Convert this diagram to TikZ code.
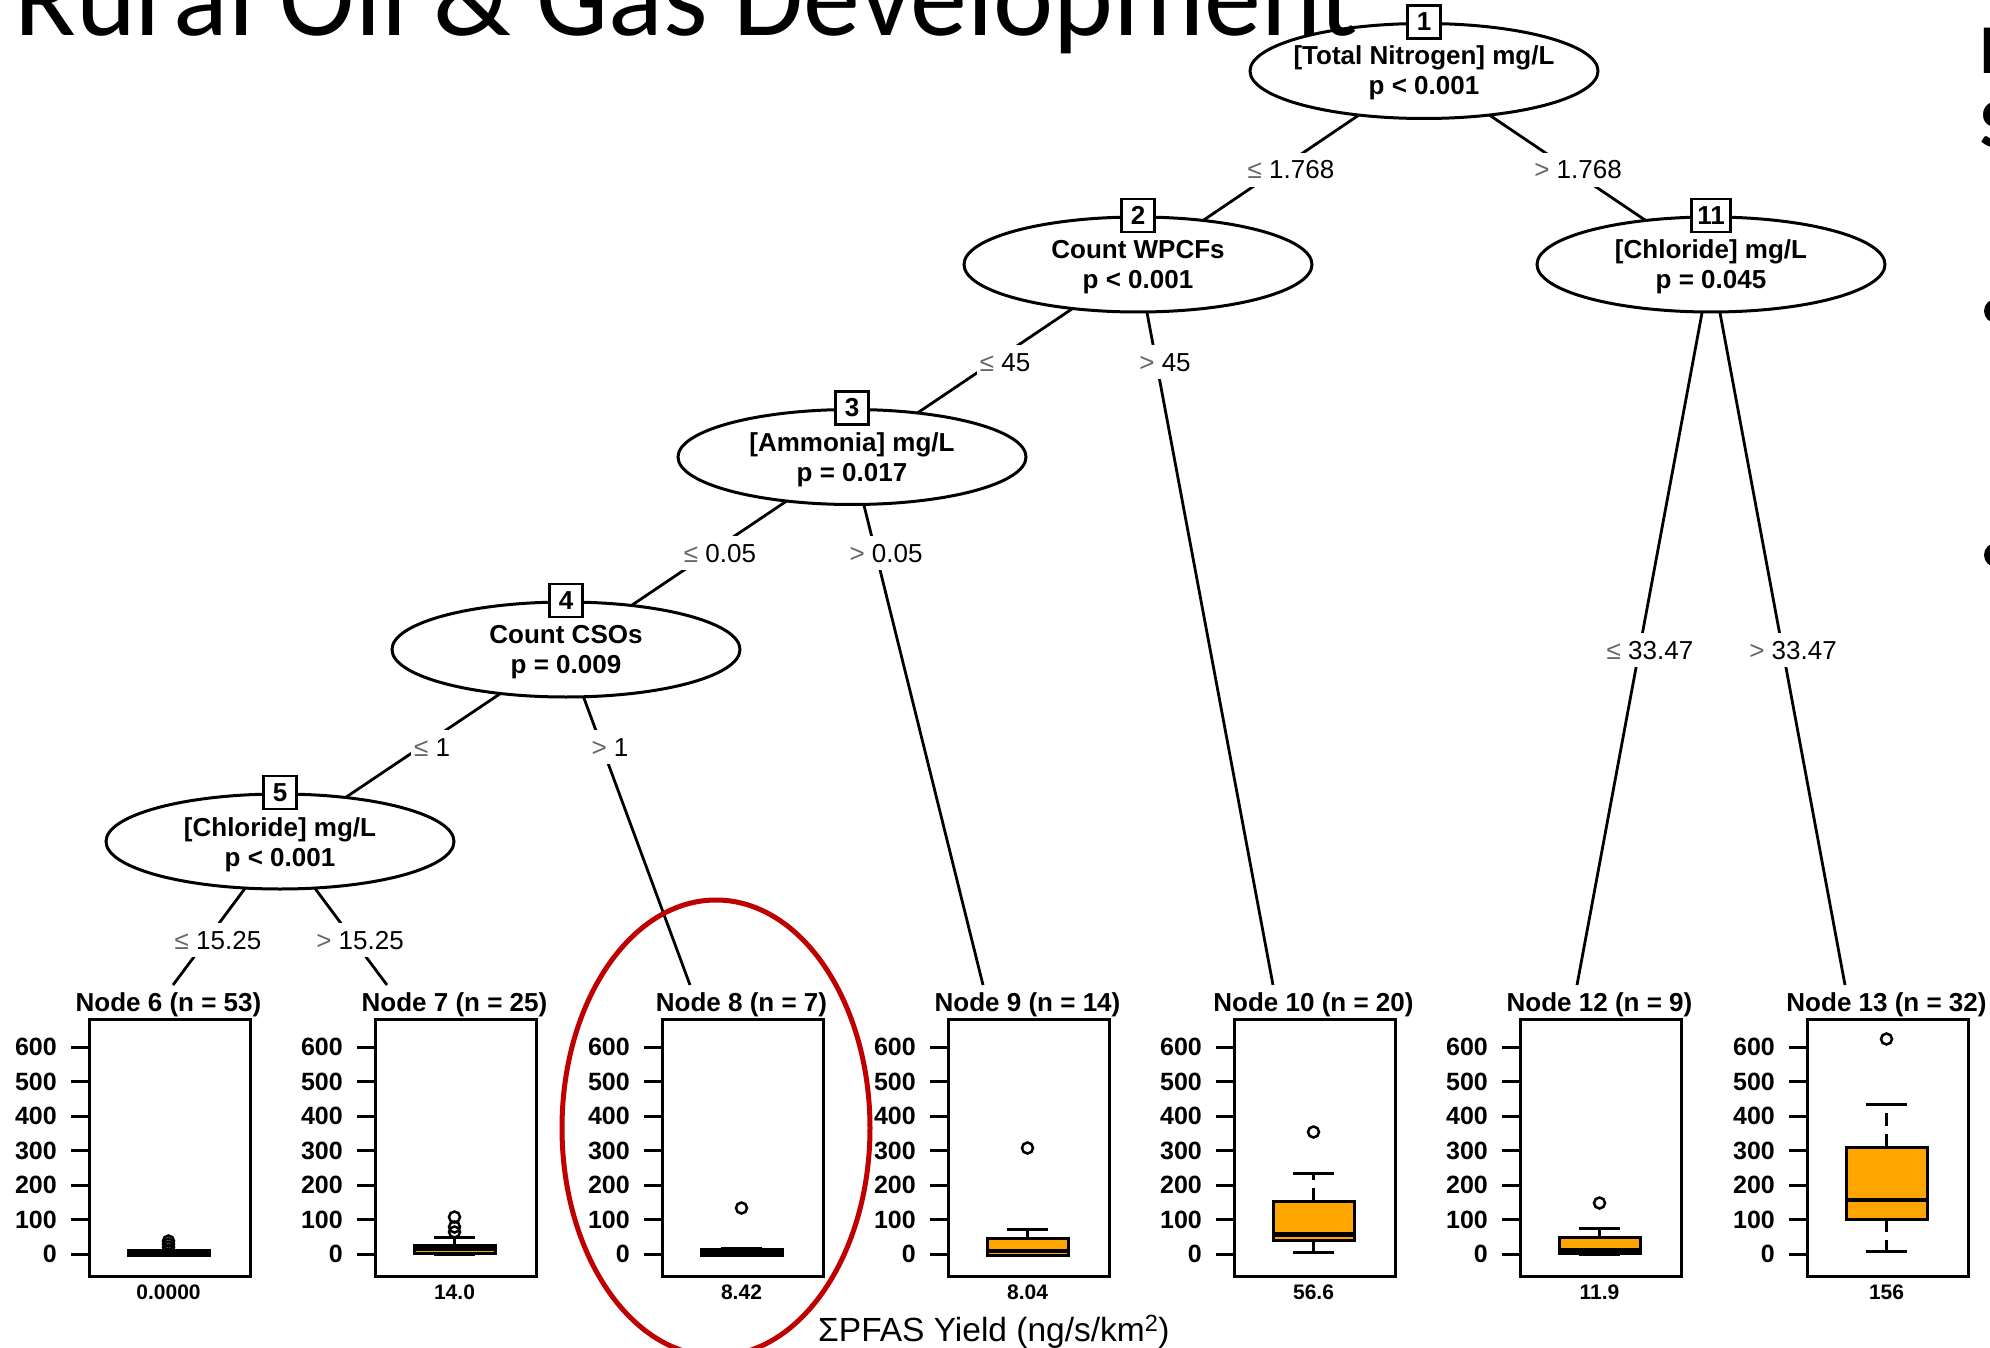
\documentclass[tikz,border=0pt]{standalone}
\usepackage{fontspec}
\setmainfont{Liberation Sans}
\newfontfamily\titlefont{Carlito}
\usetikzlibrary{shapes.geometric}
\definecolor{boxorange}{HTML}{FFA500}
\definecolor{circred}{HTML}{C00000}
\pgfdeclarelayer{bg}
\pgfdeclarelayer{edges}
\pgfsetlayers{bg,edges,main}
\newcommand\lesym{\textcolor{black!60}{≤}}
\newcommand\gtsym{\textcolor{black!60}{>}}
\tikzset{
  lw/.style={line width=3pt},
  conn/.style={line width=2.8pt},
  split/.style={ellipse, draw, line width=3pt, fill=white, minimum width=348pt, minimum height=95pt, inner sep=0pt},
  idbox/.style={draw, line width=2.5pt, fill=white, minimum height=33pt, minimum width=33pt, inner sep=0pt, font=\fontsize{26}{26}\selectfont\bfseries},
  splittxt/.style={anchor=base, inner sep=0pt, font=\fontsize{26}{30}\selectfont\bfseries},
  edgelbl/.style={fill=white, inner xsep=3pt, inner ysep=7pt, text height=19pt, text depth=1pt, font=\fontsize{26}{30}\selectfont},
  paneltitle/.style={anchor=base, inner sep=0pt, font=\fontsize{26}{26}\selectfont\bfseries},
  ticklbl/.style={anchor=east, inner sep=0pt, font=\fontsize{25}{25}\selectfont\bfseries},
  medlbl/.style={inner sep=0pt, font=\fontsize{21}{21}\selectfont\bfseries},
  panelframe/.style={draw, line width=3pt, minimum width=161pt, minimum height=257pt, anchor=north west, inner sep=0pt},
  whisk/.style={line width=3pt, dash pattern=on 13pt off 8pt},
  medline/.style={line width=4.5pt},
  outl/.style={line width=2.5pt},
  rightfrag/.style={anchor=base west, inner sep=0pt, font=\titlefont\bfseries\fontsize{70}{70}\selectfont},
}
\newcommand\bxplot[6]{%
  \draw[whisk] (#1+80.5,#2) -- (#1+80.5,#5);
  \draw[whisk] (#1+80.5,#3) -- (#1+80.5,#6);
  \draw[lw] (#1+60,#5) -- (#1+101,#5);
  \draw[lw] (#1+60,#6) -- (#1+101,#6);
  \draw[lw, fill=boxorange] (#1+40,#2) rectangle (#1+121,#3);
  \draw[medline] (#1+40,#4) -- (#1+121,#4);
}
\begin{document}
\begin{tikzpicture}[x=1pt,y=-1pt]
\useasboundingbox (0,0) rectangle (1990,1348);
\begin{pgfonlayer}{bg}
\fill[white] (0,0) rectangle (1990,1348);
\end{pgfonlayer}
\clip (0,0) rectangle (1990,1348);

% split nodes
\node[split] (n1) at (1424,71) {};
\node[split] (n2) at (1138,264.5) {};
\node[split] (n11) at (1711,264.5) {};
\node[split] (n3) at (852,457) {};
\node[split] (n4) at (566,649.5) {};
\node[split] (n5) at (280,841.5) {};

% terminal ends
\coordinate (t6) at (173,985);
\coordinate (t7) at (387,985);
\coordinate (t8) at (690,985);
\coordinate (t9) at (983,985);
\coordinate (t10) at (1273,985);
\coordinate (t12) at (1577,985);
\coordinate (t13) at (1845,985);

\begin{pgfonlayer}{edges}
\draw[conn] (n1.center) -- (n2.center);
\draw[conn] (n1.center) -- (n11.center);
\draw[conn] (n2.center) -- (n3.center);
\draw[conn] (n2.center) -- (t10);
\draw[conn] (n3.center) -- (n4.center);
\draw[conn] (n3.center) -- (t9);
\draw[conn] (n4.center) -- (n5.center);
\draw[conn] (n4.center) -- (t8);
\draw[conn] (n5.center) -- (t6);
\draw[conn] (n5.center) -- (t7);
\draw[conn] (n11.center) -- (t12);
\draw[conn] (n11.center) -- (t13);
\end{pgfonlayer}

% texts in split nodes
\node[splittxt] (n1a) at (1424,65) {[Total Nitrogen] mg/L};
\node[splittxt] (n1b) at (1424,95) {p < 0.001};
\node[splittxt] (n2a) at (1138,258.5) {Count WPCFs};
\node[splittxt] (n2b) at (1138,288.5) {p < 0.001};
\node[splittxt] (n11a) at (1711,258.5) {[Chloride] mg/L};
\node[splittxt] (n11b) at (1711,288.5) {p = 0.045};
\node[splittxt] (n3a) at (852,451) {[Ammonia] mg/L};
\node[splittxt] (n3b) at (852,481) {p = 0.017};
\node[splittxt] (n4a) at (566,643.5) {Count CSOs};
\node[splittxt] (n4b) at (566,673.5) {p = 0.009};
\node[splittxt] (n5a) at (280,836.5) {[Chloride] mg/L};
\node[splittxt] (n5b) at (280,866.5) {p < 0.001};

% id boxes
\node[idbox] (id1) at (n1.north) {1};
\node[idbox] (id2) at (n2.north) {2};
\node[idbox, minimum width=39pt] (id11) at (n11.north) {11};
\node[idbox] (id3) at (n3.north) {3};
\node[idbox] (id4) at (n4.north) {4};
\node[idbox] (id5) at (n5.north) {5};

% edge labels
\node[edgelbl] (e12) at (1291,170) {\lesym{} 1.768};
\node[edgelbl] (e111) at (1578,170) {\gtsym{} 1.768};
\node[edgelbl] (e23) at (1005,362) {\lesym{} 45};
\node[edgelbl] (e210) at (1165,362) {\gtsym{} 45};
\node[edgelbl] (e34) at (720,553) {\lesym{} 0.05};
\node[edgelbl] (e39) at (886,553) {\gtsym{} 0.05};
\node[edgelbl] (e45) at (432,747) {\lesym{} 1};
\node[edgelbl] (e48) at (610,747) {\gtsym{} 1};
\node[edgelbl] (e56) at (218,940) {\lesym{} 15.25};
\node[edgelbl] (e57) at (360,940) {\gtsym{} 15.25};
\node[edgelbl] (e1112) at (1650,650) {\lesym{} 33.47};
\node[edgelbl] (e1113) at (1793,650) {\gtsym{} 33.47};

% terminal panels
\foreach \L/\ttl/\md/\nm in {88/{Node 6 (n = 53)}/0.0000/six, 374/{Node 7 (n = 25)}/14.0/seven, 661/{Node 8 (n = 7)}/8.42/eight, 947/{Node 9 (n = 14)}/8.04/nine, 1233/{Node 10 (n = 20)}/56.6/ten, 1519/{Node 12 (n = 9)}/11.9/twelve, 1806/{Node 13 (n = 32)}/156/thirteen}{
  \node[paneltitle] (title\nm) at (\L+80.5,1011) {\ttl};
  \node[panelframe] (frame\nm) at (\L,1018) {};
  \node[medlbl] (med\nm) at (\L+80.5,1292) {\md};
  \foreach \v in {0,100,...,600}{
    \pgfmathsetmacro\yy{1254-0.345*\v}
    \draw[lw] (\L-17,\yy) -- (\L,\yy);
    \node[ticklbl] (tick\nm\v) at (\L-31,\yy) {\v};
  }
}

% box plots
\bxplot{88}{1250}{1255}{1254}{1250}{1255}
\bxplot{374}{1245}{1253}{1249}{1237}{1254}
\bxplot{661}{1249}{1255}{1252}{1248}{1255}
\bxplot{947}{1238}{1255}{1251}{1229}{1255}
\bxplot{1233}{1201}{1240}{1234.5}{1173}{1252}
\bxplot{1519}{1237}{1253}{1250}{1228}{1254}
\bxplot{1806}{1147}{1219}{1200}{1104}{1251}

% outliers
\foreach \yy in {1241,1244,1247,1250}{\draw[outl] (168.5,\yy) circle[radius=5.5pt];}
\foreach \yy in {1217,1227,1232}{\draw[outl] (454.5,\yy) circle[radius=5.5pt];}
\draw[outl] (741.5,1208) circle[radius=5.5pt];
\draw[outl] (1027.5,1148) circle[radius=5.5pt];
\draw[outl] (1313.5,1132) circle[radius=5.5pt];
\draw[outl] (1599.5,1203) circle[radius=5.5pt];
\draw[outl] (1886.5,1039) circle[radius=5.5pt];

% axis title
\node[anchor=base west, inner sep=0pt, font=\fontsize{33.5}{33.5}\selectfont] (ylab) at (818,1341) {ΣPFAS Yield (ng/s/km\textsuperscript{2})};

% red highlight
\draw[circred, line width=5pt] (716,1128) ellipse [x radius=154pt, y radius=228pt];

% slide title and right-edge fragments
\node[anchor=base west, inner sep=0pt, font=\titlefont\fontsize{114}{114}\selectfont] (slidetitle) at (14,36) {Rural Oil \& Gas Development};
\node[rightfrag] (rtA) at (1979,74) {I};
\node[rightfrag] (rtB) at (1980,148) {S};
\fill (1996,311) circle[radius=12pt];
\fill (1996,555) circle[radius=12pt];
\end{tikzpicture}
\end{document}
